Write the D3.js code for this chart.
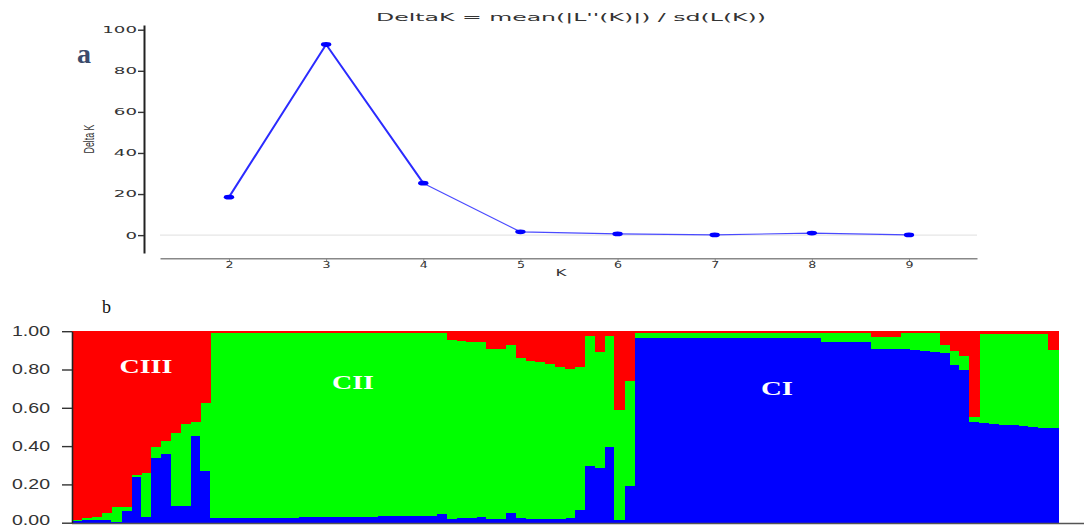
<!DOCTYPE html>
<html>
<head>
<meta charset="utf-8">
<script src="https://cdn.jsdelivr.net/npm/d3@7"></script>
<style>
  html, body { margin: 0; padding: 0; background: #ffffff; }
  svg { display: block; }
</style>
</head>
<body>
<svg id="chart" width="1084" height="527"></svg>
<script>
// ---------- Panel a data (Evanno Delta K) ----------
const kValues = [2, 3, 4, 5, 6, 7, 8, 9];
const deltaK = [18.5, 92.8, 25.3, 1.6, 0.6, 0.1, 1.0, 0.1];
const deltaKTicks = [0, 20, 40, 60, 80, 100];

// ---------- Panel b data (STRUCTURE Q-matrix, 100 individuals) ----------
const blueQ = [
  0.010, 0.012, 0.015, 0.015, 0.005, 0.062, 0.237, 0.030, 0.336, 0.357,
  0.087, 0.087, 0.454, 0.270,
  0.026, 0.026, 0.026, 0.026, 0.026, 0.026, 0.026, 0.026, 0.026,
  0.031, 0.031, 0.031, 0.031, 0.031, 0.031, 0.031, 0.031,
  0.036, 0.036, 0.036, 0.036, 0.036, 0.036,
  0.044, 0.018, 0.026, 0.022, 0.028, 0.020, 0.020, 0.049, 0.026, 0.018,
  0.020, 0.020, 0.020, 0.026, 0.066, 0.298, 0.284, 0.397, 0.015, 0.190,
  0.966, 0.966, 0.966, 0.966, 0.966, 0.966, 0.966, 0.966, 0.966, 0.966,
  0.966, 0.966, 0.966, 0.966, 0.966, 0.966, 0.966, 0.966, 0.966,
  0.942, 0.942, 0.942, 0.942, 0.942,
  0.907, 0.907, 0.907,
  0.905, 0.902, 0.898, 0.893, 0.885, 0.823, 0.800, 0.527,
  0.519, 0.515, 0.512, 0.508, 0.504, 0.500, 0.497, 0.494
];
const greenQ = [
  0.005, 0.014, 0.013, 0.035, 0.075, 0.022, 0.013, 0.230, 0.061, 0.070,
  0.383, 0.428, 0.073, 0.353,
  0.962, 0.962, 0.962, 0.962, 0.962, 0.962, 0.962, 0.962, 0.962,
  0.957, 0.957, 0.957, 0.957, 0.957, 0.957, 0.957, 0.957,
  0.952, 0.952, 0.952, 0.952, 0.952, 0.952,
  0.944, 0.937, 0.924, 0.923, 0.917, 0.887, 0.887, 0.879, 0.834, 0.827,
  0.820, 0.810, 0.795, 0.777, 0.749, 0.677, 0.606, 0.578, 0.575, 0.550,
  0.024, 0.024, 0.024, 0.024, 0.024, 0.024, 0.024, 0.024, 0.024, 0.024,
  0.024, 0.024, 0.024, 0.024, 0.024, 0.024, 0.024, 0.024, 0.024,
  0.048, 0.048, 0.048, 0.048, 0.048,
  0.065, 0.065, 0.065,
  0.085, 0.088, 0.092, 0.097, 0.045, 0.072, 0.070, 0.023,
  0.466, 0.470, 0.473, 0.477, 0.481, 0.485, 0.488, 0.408
];
const redQ = [
  0.985, 0.974, 0.972, 0.950, 0.920, 0.916, 0.750, 0.740, 0.603, 0.573,
  0.530, 0.485, 0.473, 0.377,
  0.012, 0.012, 0.012, 0.012, 0.012, 0.012, 0.012, 0.012, 0.012,
  0.012, 0.012, 0.012, 0.012, 0.012, 0.012, 0.012, 0.012,
  0.012, 0.012, 0.012, 0.012, 0.012, 0.012,
  0.012, 0.045, 0.050, 0.055, 0.055, 0.093, 0.093, 0.072, 0.140, 0.155,
  0.160, 0.170, 0.185, 0.197, 0.185, 0.025, 0.110, 0.025, 0.410, 0.260,
  0.010, 0.010, 0.010, 0.010, 0.010, 0.010, 0.010, 0.010, 0.010, 0.010,
  0.010, 0.010, 0.010, 0.010, 0.010, 0.010, 0.010, 0.010, 0.010,
  0.010, 0.010, 0.010, 0.010, 0.010,
  0.028, 0.028, 0.028,
  0.010, 0.010, 0.010, 0.010, 0.070, 0.105, 0.130, 0.450,
  0.015, 0.015, 0.015, 0.015, 0.015, 0.015, 0.015, 0.098
];
const qTicks = [0, 0.2, 0.4, 0.6, 0.8, 1.0];
const clusterKeys = ["blue", "green", "red"];
const clusterColors = ["#0000ff", "#00ff00", "#ff0000"];
const clusterLabels = [
  { name: "CIII", index: 7, value: 0.78 },
  { name: "CII", index: 28, value: 0.70 },
  { name: "CI", index: 71, value: 0.665 }
];

// ---------- Drawing ----------
const svg = d3.select("#chart");

// ===== Panel a =====
const xA = d3.scaleLinear().domain([1.29, 9.7]).range([160, 977]);
const yA = d3.scaleLinear().domain([-8.7, 102.3]).range([253, 25]);
const gA = svg.append("g");

// zero gridline
gA.append("line")
  .attr("x1", xA.range()[0]).attr("x2", xA.range()[1])
  .attr("y1", yA(0)).attr("y2", yA(0))
  .attr("stroke", "#e6e6e6").attr("stroke-width", 1.2);

// y axis
const yAxisA = gA.append("g")
  .attr("transform", `translate(144,0)`)
  .call(d3.axisLeft(yA).tickValues(deltaKTicks).tickSize(6).tickSizeOuter(0).tickPadding(1));
yAxisA.select(".domain").attr("stroke", "#222").attr("stroke-width", 2);
yAxisA.selectAll(".tick line").attr("stroke", "#333").attr("stroke-width", 1.4);
yAxisA.selectAll(".tick text")
  .attr("font-family", "DejaVu Sans").attr("font-size", 9)
  .attr("fill", "#333")
  .each(function(d) {
    const s = d3.format("d")(d);
    d3.select(this).attr("textLength", s.length * 11.6).attr("lengthAdjust", "spacingAndGlyphs");
  });

// x axis
const xAxisA = gA.append("g")
  .attr("transform", `translate(0,258.3)`)
  .call(d3.axisBottom(xA).tickValues(kValues).tickSize(3).tickSizeOuter(0).tickPadding(0));
xAxisA.select(".domain").attr("stroke", "#888").attr("stroke-width", 1.5);
xAxisA.selectAll(".tick line").attr("stroke", "#888");
xAxisA.selectAll(".tick text")
  .attr("font-family", "DejaVu Sans").attr("font-size", 9.5)
  .attr("fill", "#333")
  .attr("textLength", 8).attr("lengthAdjust", "spacingAndGlyphs");

// line (two widths as in the reference)
const pts = kValues.map((k, i) => ({ k, v: deltaK[i] }));
const lineGen = d3.line().x(d => xA(d.k)).y(d => yA(d.v));
gA.append("path")
  .datum(pts.filter(d => d.k <= 4))
  .attr("d", lineGen).attr("fill", "none")
  .attr("stroke", "#2b2bff").attr("stroke-width", 2);
gA.append("path")
  .datum(pts.filter(d => d.k >= 4))
  .attr("d", lineGen).attr("fill", "none")
  .attr("stroke", "#4a4aff").attr("stroke-width", 1.2);

// markers
gA.selectAll("ellipse.pt").data(pts).join("ellipse")
  .attr("class", "pt")
  .attr("cx", d => xA(d.k)).attr("cy", d => yA(d.v))
  .attr("rx", 5.2).attr("ry", 2.4)
  .attr("fill", "#0000ff");

// title
gA.append("text")
  .attr("x", 376).attr("y", 21)
  .attr("font-family", "DejaVu Sans").attr("font-size", 10.5)
  .attr("fill", "#333")
  .attr("textLength", 390).attr("lengthAdjust", "spacingAndGlyphs")
  .text("DeltaK = mean(|L''(K)|) / sd(L(K))");

// x label
gA.append("text")
  .attr("x", 561).attr("y", 276).attr("text-anchor", "middle")
  .attr("font-family", "DejaVu Sans").attr("font-size", 9)
  .attr("fill", "#333")
  .attr("textLength", 11).attr("lengthAdjust", "spacingAndGlyphs")
  .text("K");

// y label
gA.append("text")
  .attr("transform", "translate(94,139) rotate(-90)")
  .attr("text-anchor", "middle")
  .attr("font-family", "Liberation Sans Narrow, Liberation Sans, Arial")
  .attr("font-size", 14)
  .attr("fill", "#333")
  .attr("textLength", 29).attr("lengthAdjust", "spacingAndGlyphs")
  .text("Delta K");

// panel label a
svg.append("text")
  .attr("x", 77).attr("y", 63)
  .attr("font-family", "Liberation Serif, Times New Roman, serif")
  .attr("font-weight", "bold").attr("font-size", 28)
  .attr("fill", "#3b4a6b")
  .text("a");

// ===== Panel b =====
const n = blueQ.length;
const rows = d3.range(n).map(i => ({ i, blue: blueQ[i], green: greenQ[i], red: redQ[i] }));
const xB = d3.scaleBand().domain(d3.range(n)).range([72, 1058]).padding(0);
const yB = d3.scaleLinear().domain([0, 1]).range([522.7, 331.2]);
const stack = d3.stack().keys(clusterKeys);
const series = stack(rows);
const gB = svg.append("g");

gB.selectAll("g.layer").data(series).join("g")
  .attr("class", "layer")
  .attr("fill", (d, i) => clusterColors[i])
  .selectAll("rect").data(d => d).join("rect")
  .attr("x", d => xB(d.data.i))
  .attr("width", xB.bandwidth() + 0.6)
  .attr("y", d => yB(d[1]))
  .attr("height", d => Math.max(0, yB(d[0]) - yB(d[1])))
  .attr("shape-rendering", "crispEdges");

// cluster labels
gB.selectAll("text.cl").data(clusterLabels).join("text")
  .attr("class", "cl")
  .attr("x", d => xB(d.index) + xB.bandwidth() / 2)
  .attr("y", d => yB(d.value))
  .attr("text-anchor", "middle")
  .attr("font-family", "Liberation Serif, Times New Roman, serif")
  .attr("font-weight", "bold").attr("font-size", 18.5)
  .attr("fill", "#ffffff")
  .attr("textLength", d => d.name === "CIII" ? 53 : d.name === "CII" ? 42 : 32)
  .attr("lengthAdjust", "spacingAndGlyphs")
  .text(d => d.name);

// bottom baseline
gB.append("line")
  .attr("x1", 72).attr("x2", 1084)
  .attr("y1", yB(0) + 0.8).attr("y2", yB(0) + 0.8)
  .attr("stroke", "#555").attr("stroke-width", 1.5);

// y axis
const yAxisB = gB.append("g")
  .attr("transform", "translate(72,0)")
  .call(d3.axisLeft(yB).tickValues(qTicks).tickFormat(d3.format(".2f")).tickSize(10).tickSizeOuter(0).tickPadding(12));
yAxisB.select(".domain").attr("stroke", "#222").attr("stroke-width", 1.6);
yAxisB.selectAll(".tick line").attr("stroke", "#333").attr("stroke-width", 1.4);
yAxisB.selectAll(".tick text")
  .attr("font-family", "Liberation Sans, Arial, sans-serif")
  .attr("font-size", 14)
  .attr("fill", "#333")
  .attr("dy", d => d === 0 ? "0.1em" : "0.32em")
  .attr("textLength", 38).attr("lengthAdjust", "spacingAndGlyphs");

// panel label b
svg.append("text")
  .attr("x", 102).attr("y", 313)
  .attr("font-family", "Liberation Serif, Times New Roman, serif")
  .attr("font-size", 18)
  .attr("fill", "#111")
  .text("b");
</script>
</body>
</html>
